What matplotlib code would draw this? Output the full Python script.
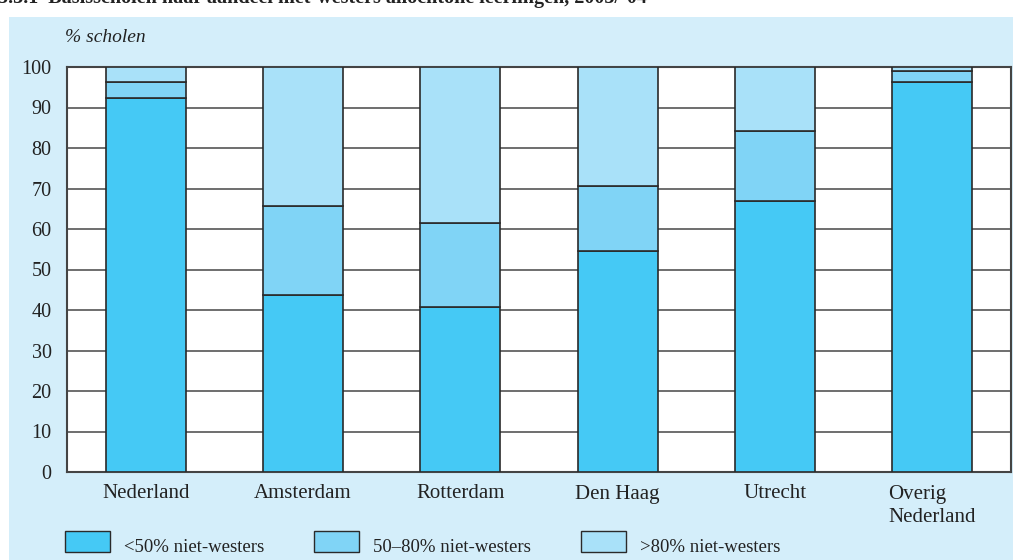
import matplotlib.pyplot as plt
import matplotlib.patches as mpatches
import numpy as np

plt.rcParams["font.family"] = ["Liberation Serif", "DejaVu Serif"]

gebieden = ["Nederland", "Amsterdam", "Rotterdam", "Den Haag", "Utrecht", "Overig\nNederland"]
onder_50 = [92.3, 43.7, 40.7, 54.6, 66.9, 96.4]
tussen_50_80 = [4.0, 22.0, 20.8, 16.0, 17.3, 2.5]
boven_80 = [3.7, 34.3, 38.5, 29.4, 15.8, 1.1]
reeksen = ["<50% niet-westers", "50\u201380% niet-westers", ">80% niet-westers"]
kleuren = ["#45C9F5", "#80D4F6", "#A9E1F9"]

W, H = 1013, 560
fig = plt.figure(figsize=(W / 100, H / 100), dpi=100)
fig.patch.set_facecolor("white")

# lichtblauw paneel
fig.add_artist(mpatches.Rectangle((9 / W, 0), 1, 1 - 17 / H, transform=fig.transFigure,
                                  facecolor="#D4EEFA", edgecolor="none", zorder=0))

# titel (bovenkant valt buiten beeld)
fig.text(-2 / W, 1 - 3 / H, "5.3.1  Basisscholen naar aandeel niet-westers allochtone leerlingen, 2003/\u201904",
         fontsize=14.5, fontweight="bold", va="baseline", ha="left", color="#222222")

ax = fig.add_axes([67 / W, 1 - 472 / H, (1011 - 67) / W, (472 - 67) / H])
ax.set_facecolor("white")

x = np.arange(len(gebieden))
breedte = 0.51
onder = np.zeros(len(gebieden))
for waarden, kleur in zip([onder_50, tussen_50_80, boven_80], kleuren):
    ax.bar(x, waarden, breedte, bottom=onder, color=kleur, edgecolor="#2a2a2a",
           linewidth=1.2, zorder=3)
    onder += np.array(waarden)

ax.set_xlim(-0.5, len(gebieden) - 0.5)
ax.set_ylim(0, 100)
ax.set_yticks(range(0, 101, 10))
ax.yaxis.grid(True, color="#555555", linewidth=1.2, zorder=0)
ax.set_axisbelow(True)
ax.tick_params(axis="both", length=0, colors="#222222")
ax.tick_params(axis="y", pad=11, labelsize=14.5)
ax.tick_params(axis="x", pad=9, labelsize=15)
ax.set_xticks(x)
ax.set_xticklabels(gebieden)
for lbl in ax.get_xticklabels():
    lbl.set_multialignment("left")
    lbl.set_linespacing(1.3)
for s in ax.spines.values():
    s.set_color("#444444")
    s.set_linewidth(1.5)

fig.text(65 / W, 1 - 37 / H, "% scholen", fontsize=14, style="italic", va="center", color="#222222")

# legenda
leg_x = [65, 314, 581]
for lx, kleur, naam in zip(leg_x, kleuren, reeksen):
    fig.add_artist(mpatches.Rectangle((lx / W, 1 - 552 / H), 45 / W, 21 / H, transform=fig.transFigure,
                                      facecolor=kleur, edgecolor="#2a2a2a", linewidth=1.0))
    fig.text((lx + 59) / W, 1 - 548 / H, naam, fontsize=13.5, va="center", ha="left", color="#222222")

fig.savefig("out.png", dpi=100)
